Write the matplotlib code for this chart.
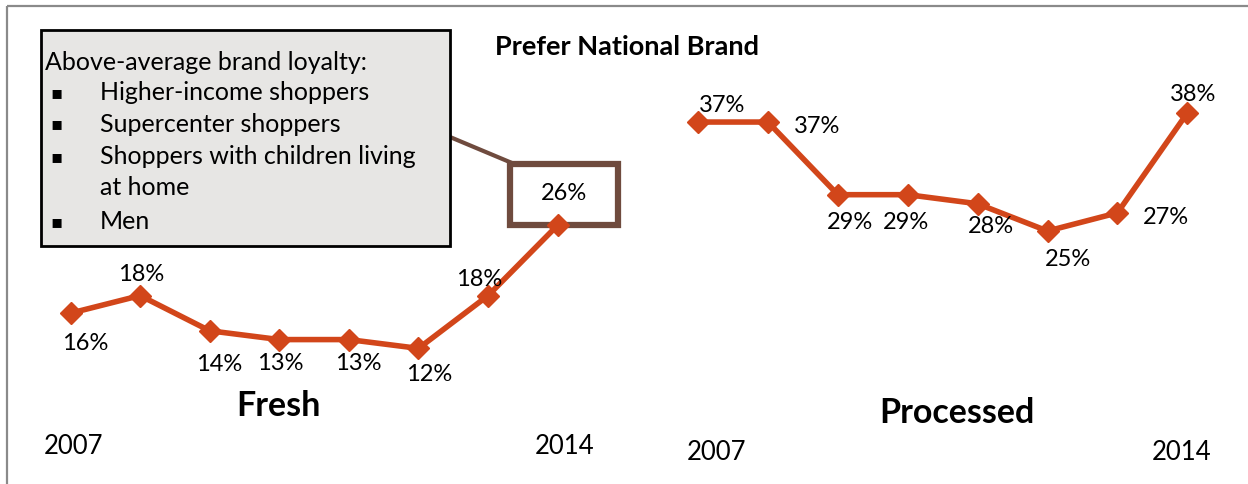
import matplotlib.pyplot as plt
from matplotlib.patches import Rectangle
from matplotlib.lines import Line2D

plt.rcParams['font.family'] = ['Lato', 'DejaVu Sans']

# data
years = ['2007', '2008', '2009', '2010', '2011', '2012', '2013', '2014']
fresh = [16, 18, 14, 13, 13, 12, 18, 26]
processed = [37, 37, 29, 29, 28, 25, 27, 38]
loyalty_title = 'Above-average brand loyalty:'
loyalty_items = ['Higher-income shoppers', 'Supercenter shoppers',
                 'Shoppers with children living', 'Men']
loyalty_wrap = 'at home'

ORANGE = '#D2461A'
W, H = 1248, 485
fig = plt.figure(figsize=(W / 100, H / 100), dpi=100)

# pixel-space overlay for frame, callouts and free text
ov = fig.add_axes([0, 0, 1, 1])
ov.set_xlim(0, W)
ov.set_ylim(H, 0)
ov.axis('off')

ov.add_patch(Rectangle((7, 7), W + 20, H + 20, fill=False, ec='#8a8a8a', lw=1.6))


def panel(left, xlim, ylim, values, offsets, year_off, name, name_xy):
    ax = fig.add_axes([left, 0, 0.5, 1])
    ax.set_xlim(*xlim)
    ax.set_ylim(*ylim)
    ax.axis('off')
    ax.patch.set_alpha(0)
    xs = range(len(values))
    ax.plot(xs, values, color=ORANGE, lw=4, marker='D', ms=11,
            mec=ORANGE, mfc=ORANGE, zorder=3, solid_joinstyle='miter')
    for x, v, off in zip(xs, values, offsets):
        if off is None:
            continue
        ax.annotate(f'{v}%', (x, v), xytext=off, textcoords='offset pixels',
                    ha='center', va='center', fontsize=17)
    for x, lab, off in [(0, years[0], year_off[0]), (len(values) - 1, years[-1], year_off[1])]:
        ax.annotate(lab, (x, ylim[0]), xytext=off, textcoords='offset pixels',
                    ha='center', va='center', fontsize=18.5)
    ov.text(*name_xy, name, ha='center', va='center', fontsize=24.5, fontweight='bold')
    return ax


fresh_off = [(15, -29), (1, 22), (9, -33), (1, -23), (9, -23), (11, -25), (-9, 17), None]
proc_off = [(24, 18), (49, -3), (12, -27), (-2, -27), (13, -22), (20, -27), (49, -4), (6, 19)]

ax1 = panel(0.0, (-1.013, 7.953), (-3.41, 51.7), fresh, fresh_off,
            [(3, 38), (7, 38)], 'Fresh', (278, 406))
ax2 = panel(0.5, (-1.059, 7.868), (-2.86, 50.55), processed, proc_off,
            [(18, 32), (-6, 32)], 'Processed', (957, 413))

# highlighted 2014 value for fresh
ax1.annotate(f'{fresh[-1]}%', (7, fresh[-1]), xytext=(6, 33), textcoords='offset pixels',
             ha='center', va='center', fontsize=17)
ov.add_patch(Rectangle((510, 165), 108, 61, fill=False, ec='#6F4B3E', lw=4.5, zorder=5))
ov.add_line(Line2D([450, 512], [138, 164], color='#6F4B3E', lw=3, zorder=4))

# text box
ov.add_patch(Rectangle((41, 31), 409, 216, fc='#E7E6E4', ec='black', lw=2, zorder=6))
ov.text(45, 62, loyalty_title, ha='left', va='center', fontsize=18, zorder=7)
rows = [93, 124, 157, 222]
for y, item in zip(rows, loyalty_items):
    ov.text(57, y, '\u25aa', ha='center', va='center', fontsize=13,
            family=['DejaVu Sans'], zorder=7)
    ov.text(100, y, item, ha='left', va='center', fontsize=18, zorder=7)
ov.text(100, 188, loyalty_wrap, ha='left', va='center', fontsize=18, zorder=7)

ov.text(627, 47, 'Prefer National Brand', ha='center', va='center',
        fontsize=19.5, fontweight='bold')

fig.savefig('out.png', dpi=100)
